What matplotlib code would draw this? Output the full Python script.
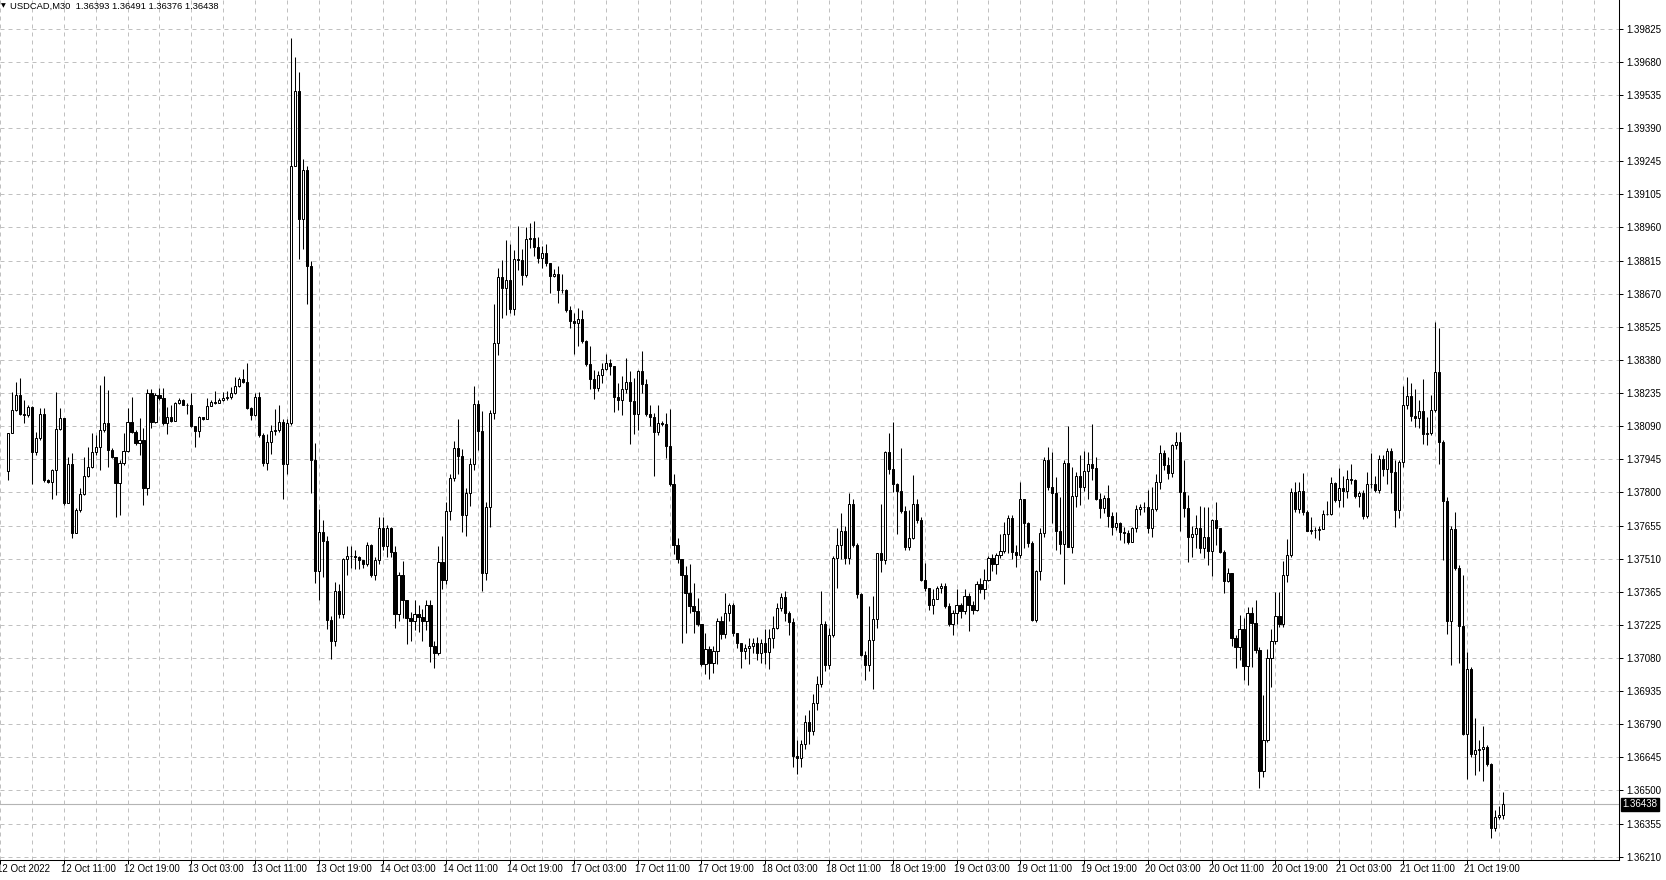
"""
USDCAD M30 candlestick chart, MetaTrader style
"""

import matplotlib
matplotlib.use('Agg')
import matplotlib.pyplot as plt
import numpy as np

plt.rcParams['font.family'] = ['Liberation Sans', 'DejaVu Sans']

# ── data (prices in points, 1 point = 0.00001) ──────────────
SYMBOL = 'USDCAD,M30'
FIRST_OPEN = 137894   # open of the first visible bar; later opens = previous close

close_pts = [
    138059, 138160, 138226, 138143, 138137, 138175, 137976, 138037, 138143, 137855,
    137848, 137899, 138077, 138124, 137753, 137925, 137625, 137724, 137794, 137872,
    137913, 137976, 138000, 138073, 138102, 137986, 137954, 137840, 137928, 137981,
    138110, 138066, 138015, 138029, 137821, 138233, 138107, 138226, 138211, 138102,
    138131, 138114, 138190, 138204, 138184, 138181, 138091, 138070, 138128, 138120,
    138179, 138197, 138192, 138204, 138211, 138219, 138233, 138265, 138294, 138284,
    138168, 138139, 138219, 138051, 137928, 138022, 138069, 138073, 138107, 137925,
    138103, 139226, 139552, 138993, 139209, 138789, 137942, 137457, 137627, 137589,
    137244, 137150, 137372, 137270, 137508, 137522, 137525, 137520, 137505, 137490,
    137570, 137440, 137505, 137643, 137567, 137647, 137540, 137270, 137440, 137330,
    137250, 137240, 137270, 137255, 137240, 137310, 137130, 137100, 137497, 137420,
    137720, 137865, 137993, 137960, 137704, 137797, 137925, 138188, 138069, 137449,
    137737, 138146, 138452, 138741, 138695, 138730, 138602, 138820, 138815, 138748,
    138905, 138910, 138873, 138825, 138847, 138800, 138744, 138756, 138686, 138683,
    138599, 138548, 138541, 138556, 138461, 138359, 138297, 138257, 138311, 138340,
    138366, 138352, 138217, 138206, 138250, 138282, 138199, 138141, 138330, 138272,
    138141, 138130, 138064, 138104, 138097, 138003, 137836, 137573, 137508, 137442,
    137362, 137304, 137282, 137224, 137050, 137118, 137057, 137108, 137239, 137181,
    137275, 137311, 137188, 137144, 137108, 137122, 137130, 137144, 137100, 137144,
    137103, 137166, 137210, 137297, 137345, 137272, 137235, 136650, 136640, 136700,
    136800, 136760, 136880, 136962, 137224, 137049, 137180, 137515, 137573, 137634,
    137515, 137750, 137573, 137358, 137089, 137045, 137155, 137246, 137537, 137505,
    137976, 137903, 137838, 137806, 137718, 137563, 137602, 137752, 137682, 137417,
    137384, 137307, 137336, 137384, 137391, 137304, 137224, 137275, 137307, 137282,
    137348, 137311, 137289, 137402, 137377, 137420, 137515, 137486, 137527, 137544,
    137617, 137687, 137541, 137527, 137770, 137665, 137581, 137243, 137458, 137625,
    137942, 137822, 137799, 137632, 137575, 137931, 137563, 137786, 137872, 137822,
    137894, 137923, 137905, 137770, 137731, 137774, 137697, 137651, 137665, 137629,
    137624, 137585, 137643, 137726, 137735, 137738, 137646, 137726, 137844, 137971,
    137920, 137886, 138007, 138019, 137803, 137731, 137607, 137619, 137646, 137559,
    137607, 137546, 137680, 137643, 137541, 137413, 137447, 137167, 137124, 137202,
    137042, 137272, 137232, 137112, 136585, 136720, 137079, 137150, 137259, 137226,
    137439, 137529, 137802, 137726, 137806, 137716, 137633, 137636, 137638, 137641,
    137705, 137705, 137843, 137769, 137818, 137806, 137858, 137855, 137786, 137798,
    137696, 137836, 137836, 137809, 137948, 137903, 137981, 137891, 137723, 137933,
    138180, 138221, 138135, 138125, 138158, 138056, 138061, 138161, 138327, 138020,
    137764, 137241, 137641, 137472, 137218, 136747, 137031, 136660, 136678, 136682,
    136690, 136615, 136336, 136385, 136393, 136438,
]

high_pts = [
    138061, 138240, 138284, 138299, 138204, 138182, 138178, 138066, 138168, 138168,
    137858, 137901, 138240, 138168, 138124, 137957, 137971, 137731, 137818, 137957,
    138000, 138059, 138051, 138270, 138309, 138248, 137993, 137957, 137942, 138061,
    138168, 138216, 138073, 138124, 138083, 138251, 138251, 138233, 138255, 138255,
    138175, 138182, 138197, 138211, 138207, 138190, 138233, 138091, 138134, 138131,
    138211, 138204, 138243, 138211, 138240, 138243, 138262, 138303, 138306, 138338,
    138364, 138175, 138233, 138238, 138059, 138056, 138095, 138163, 138180, 138120,
    138123, 139784, 139702, 139634, 139256, 139226, 138809, 138018, 137729, 137681,
    137610, 137260, 137410, 137400, 137515, 137567, 137567, 137550, 137525, 137500,
    137585, 137575, 137520, 137695, 137695, 137660, 137650, 137565, 137455, 137500,
    137330, 137280, 137330, 137310, 137290, 137330, 137330, 137150, 137565, 137610,
    137760, 137880, 138027, 138120, 137990, 137820, 137950, 138265, 138205, 138155,
    137760, 138160, 138622, 138780, 138817, 138902, 138883, 138861, 138963, 138864,
    138960, 138977, 138985, 138916, 138876, 138886, 138773, 138775, 138788, 138752,
    138690, 138613, 138584, 138606, 138599, 138468, 138439, 138337, 138330, 138366,
    138403, 138381, 138352, 138279, 138308, 138388, 138330, 138301, 138337, 138417,
    138294, 138184, 138148, 138184, 138112, 138148, 138163, 137879, 137602, 137508,
    137479, 137486, 137406, 137340, 137224, 137188, 137130, 137130, 137253, 137261,
    137362, 137319, 137319, 137188, 137144, 137137, 137166, 137166, 137170, 137160,
    137202, 137202, 137260, 137318, 137362, 137369, 137282, 137250, 136720, 136720,
    136830, 136850, 136920, 137000, 137369, 137240, 137210, 137522, 137646, 137711,
    137653, 137796, 137772, 137580, 137362, 137110, 137304, 137348, 137537, 137748,
    137980, 138060, 138108, 137842, 137995, 137740, 137722, 137878, 137770, 137693,
    137493, 137384, 137377, 137391, 137406, 137406, 137319, 137289, 137377, 137318,
    137377, 137362, 137326, 137413, 137428, 137464, 137525, 137530, 137537, 137621,
    137670, 137701, 137701, 137570, 137847, 137770, 137672, 137590, 137461, 137643,
    137956, 137999, 137978, 137866, 137779, 137942, 138090, 137912, 137891, 137963,
    137982, 137978, 138099, 137956, 137796, 137789, 137832, 137716, 137716, 137672,
    137650, 137636, 137650, 137745, 137752, 137760, 137811, 137822, 137883, 138007,
    137985, 137956, 138014, 138065, 138065, 137942, 137789, 137654, 137701, 137741,
    137738, 137738, 137683, 137760, 137643, 137549, 137469, 137447, 137178, 137265,
    137250, 137298, 137301, 137330, 137124, 136914, 137117, 137202, 137364, 137364,
    137499, 137596, 137821, 137844, 137844, 137885, 137723, 137693, 137648, 137656,
    137723, 137761, 137866, 137844, 137906, 137873, 137898, 137926, 137861, 137806,
    137813, 137888, 137971, 137873, 137963, 137963, 137993, 137996, 137941, 137941,
    138263, 138305, 138278, 138251, 138203, 138296, 138128, 138225, 138544, 138517,
    138031, 137779, 137656, 137716, 137484, 137438, 137102, 137037, 136817, 136720,
    136780, 136697, 136618, 136412, 136433, 136491,
]

low_pts = [
    137855, 138059, 138157, 138139, 138102, 138131, 137836, 137964, 138029, 137848,
    137840, 137770, 137789, 138073, 137746, 137753, 137600, 137625, 137717, 137789,
    137869, 137906, 137964, 137899, 138066, 137913, 137949, 137692, 137702, 137920,
    137979, 138059, 138008, 137964, 137746, 137789, 138080, 138102, 138204, 138095,
    138056, 138110, 138128, 138187, 138181, 138143, 138088, 138000, 138044, 138117,
    138120, 138178, 138187, 138190, 138200, 138204, 138207, 138230, 138262, 138277,
    138163, 138117, 138134, 138044, 137916, 137899, 137967, 138052, 138066, 137771,
    137882, 138095, 139226, 138821, 138865, 138622, 137797, 137406, 137329, 137431,
    137202, 137073, 137130, 137250, 137250, 137440, 137470, 137465, 137465, 137470,
    137480, 137430, 137420, 137490, 137550, 137520, 137520, 137210, 137240, 137250,
    137140, 137150, 137200, 137190, 137150, 137200, 137060, 137036, 137090, 137380,
    137400, 137680, 137850, 137880, 137627, 137610, 137740, 137900, 137985, 137372,
    137420, 137650, 138120, 138400, 138563, 138577, 138585, 138577, 138770, 138708,
    138740, 138868, 138832, 138803, 138781, 138790, 138672, 138740, 138628, 138670,
    138590, 138519, 138403, 138439, 138453, 138352, 138250, 138209, 138243, 138279,
    138337, 138315, 138151, 138162, 138140, 138235, 138010, 138054, 138075, 138235,
    138133, 138090, 137872, 138053, 138090, 137952, 137828, 137530, 137493, 137144,
    137188, 137275, 137188, 137217, 137042, 137006, 136984, 137013, 137050, 137159,
    137166, 137239, 137173, 137122, 137035, 137072, 137050, 137100, 137070, 137057,
    137053, 137028, 137122, 137202, 137282, 137239, 137180, 136600, 136572, 136600,
    136680, 136700, 136740, 136850, 136950, 137020, 137028, 137170, 137384, 137508,
    137486, 137486, 137563, 137340, 137086, 136983, 137020, 136940, 137210, 137452,
    137490, 137880, 137801, 137617, 137711, 137551, 137548, 137598, 137668, 137413,
    137369, 137289, 137268, 137333, 137362, 137297, 137217, 137180, 137224, 137253,
    137268, 137195, 137268, 137282, 137362, 137336, 137413, 137457, 137443, 137515,
    137537, 137534, 137508, 137473, 137512, 137556, 137563, 137240, 137236, 137418,
    137607, 137810, 137665, 137549, 137531, 137399, 137563, 137534, 137735, 137745,
    137808, 137770, 137854, 137767, 137687, 137709, 137648, 137614, 137636, 137592,
    137578, 137575, 137599, 137629, 137701, 137716, 137624, 137604, 137720, 137814,
    137898, 137861, 137869, 137992, 137633, 137691, 137498, 137520, 137556, 137534,
    137515, 137483, 137435, 137573, 137534, 137363, 137410, 137130, 137032, 137068,
    136980, 136958, 137039, 137100, 136510, 136558, 136712, 136952, 137139, 137214,
    137214, 137409, 137517, 137716, 137709, 137701, 137630, 137619, 137600, 137593,
    137641, 137701, 137701, 137757, 137735, 137735, 137776, 137836, 137776, 137738,
    137686, 137690, 137821, 137802, 137799, 137870, 137836, 137799, 137651, 137690,
    137911, 138165, 138113, 138086, 138080, 138011, 138008, 138053, 138150, 137926,
    137506, 137184, 137048, 137461, 137054, 136742, 136550, 136645, 136568, 136583,
    136540, 136607, 136291, 136321, 136375, 136376,
]

# right axis labels (as printed by the terminal)
price_labels = [
    '1.39825', '1.39680', '1.39535', '1.39390', '1.39245', '1.39105', '1.38960',
    '1.38815', '1.38670', '1.38525', '1.38380', '1.38235', '1.38090', '1.37945',
    '1.37800', '1.37655', '1.37510', '1.37365', '1.37225', '1.37080', '1.36935',
    '1.36790', '1.36645', '1.36500', '1.36355', '1.36210',
]

# bottom axis labels, one every 16 bars starting 2 bars before the first bar
time_labels = [
    '12 Oct 2022', '12 Oct 11:00', '12 Oct 19:00', '13 Oct 03:00', '13 Oct 11:00',
    '13 Oct 19:00', '14 Oct 03:00', '14 Oct 11:00', '14 Oct 19:00', '17 Oct 03:00',
    '17 Oct 11:00', '17 Oct 19:00', '18 Oct 03:00', '18 Oct 11:00', '18 Oct 19:00',
    '19 Oct 03:00', '19 Oct 11:00', '19 Oct 19:00', '20 Oct 03:00', '20 Oct 11:00',
    '20 Oct 19:00', '21 Oct 03:00', '21 Oct 11:00', '21 Oct 19:00',
]

# ── arrays ──────────────────────────────────────────────────
closes = np.array(close_pts) / 1e5
highs = np.array(high_pts) / 1e5
lows = np.array(low_pts) / 1e5
opens = np.concatenate([[FIRST_OPEN / 1e5], closes[:-1]])
bars = np.arange(len(closes))

# ── layout (pixels of the 1666x880 window) ─────────────────
W, H = 1666, 880
AX_RIGHT = 1619      # price scale line
AX_BOTTOM = 860      # time scale line
PX_PER_BAR = 4
BAR0_X = 2.2         # pixel centre of bar 0

GRID_C = '#c0c0c0'
FS = 7

fig = plt.figure(figsize=(W / 100, H / 100), dpi=100)
fig.patch.set_facecolor('white')
ax = fig.add_axes([0, (H - AX_BOTTOM) / H, AX_RIGHT / W, AX_BOTTOM / H])

ax.set_xlim(-BAR0_X / PX_PER_BAR, (AX_RIGHT - BAR0_X) / PX_PER_BAR)

# price scale: 26 labelled levels, evenly spaced
n_lv = len(price_labels)
top_p, bot_p = float(price_labels[0]), float(price_labels[-1])
step = (top_p - bot_p) / (n_lv - 1)
level_vals = top_p - step * np.arange(n_lv)
px_per_step = 33.12
y_top_px = 28.7      # pixel row of the first level
ax.set_ylim(bot_p - step * (AX_BOTTOM - (y_top_px + px_per_step * (n_lv - 1))) / px_per_step,
            top_p + step * y_top_px / px_per_step)

# ── grid ────────────────────────────────────────────────────
label_bars = -2 + 16 * np.arange(len(time_labels))
grid_bars = np.arange(-2, 405, 8)
ax.set_xticks(label_bars)
ax.set_xticks(grid_bars, minor=True)
ax.set_xticklabels([])
ax.set_yticks(level_vals)
ax.set_yticklabels(price_labels)
ax.yaxis.tick_right()

grid_kw = dict(color=GRID_C, linewidth=0.72, linestyle=(0, (4, 4)))
ax.grid(True, which='both', axis='x', **grid_kw)
ax.grid(True, which='major', axis='y', **grid_kw)
ax.set_axisbelow(True)

ax.tick_params(axis='y', direction='out', length=3, width=0.72, pad=2,
               labelsize=FS, colors='black')
ax.tick_params(axis='x', which='major', direction='out', length=3, width=0.72)
ax.tick_params(axis='x', which='minor', length=0)

for s in ('top', 'left'):
    ax.spines[s].set_visible(False)
for s in ('right', 'bottom'):
    ax.spines[s].set_color('black')
    ax.spines[s].set_linewidth(0.75)

for b, lab in zip(label_bars, time_labels):
    ax.annotate(lab, xy=(b, 0), xycoords=('data', 'axes fraction'),
                xytext=(-2.2, -3.2), textcoords='offset points',
                ha='left', va='top', fontsize=FS, annotation_clip=False)

# ── current bid line ────────────────────────────────────────
last = closes[-1]
ax.axhline(last, color='#b4b4b4', linewidth=0.8, zorder=1)
ax.annotate(f'{last:.5f}', xy=(1, last), xycoords=('axes fraction', 'data'),
            xytext=(2.6, 0), textcoords='offset points', ha='left', va='center',
            fontsize=FS, color='white', annotation_clip=False,
            bbox=dict(boxstyle='square,pad=0.18', fc='black', ec='black'))

# ── candles ─────────────────────────────────────────────────
up = closes >= opens
body_lo = np.minimum(opens, closes)
body_h = np.abs(closes - opens)

ax.vlines(bars, lows, highs, color='black', linewidth=0.75, zorder=3)
ax.bar(bars[up], body_h[up], bottom=body_lo[up], width=0.55,
       color='white', edgecolor='black', linewidth=0.72, zorder=4)
ax.bar(bars[~up], body_h[~up], bottom=body_lo[~up], width=0.55,
       color='black', edgecolor='black', linewidth=0.72, zorder=4)

# ── header ──────────────────────────────────────────────────
fig.text(1 / W, 1 - 5.5 / H, '\u25bc', fontsize=4.5, family='DejaVu Sans',
         ha='left', va='center')
header = f'{SYMBOL}  {opens[-1]:.5f} {highs[-1]:.5f} {lows[-1]:.5f} {closes[-1]:.5f}'
fig.text(10 / W, 1 - 6 / H, header, fontsize=6.75, ha='left', va='center')

fig.savefig('out.png', dpi=100, facecolor='white')
plt.close(fig)
